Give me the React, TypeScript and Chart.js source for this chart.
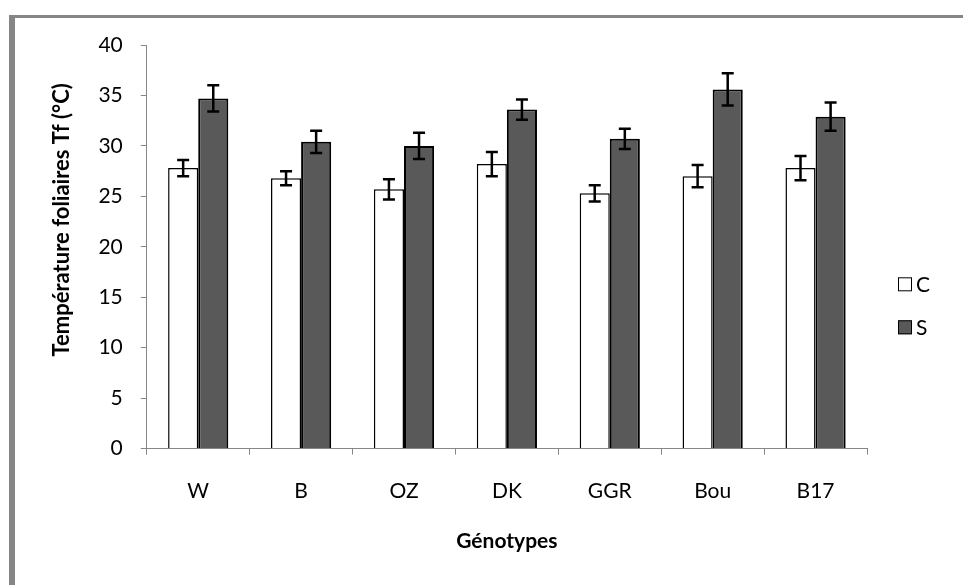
import React, { useEffect, useRef } from "react";
import { Chart, registerables } from "chart.js";

Chart.register(...registerables);

const categories = ["W", "B", "OZ", "DK", "GGR", "Bou", "B17"];
const seriesLabels = ["C", "S"];
const valuesC = [27.8, 26.8, 25.7, 28.2, 25.3, 27.0, 27.8];
const valuesS = [34.7, 30.4, 30.0, 33.6, 30.7, 35.6, 32.9];
const errorsC = [0.8, 0.7, 1.0, 1.2, 0.8, 1.1, 1.2];
const errorsS = [1.3, 1.1, 1.3, 1.0, 1.0, 1.6, 1.4];
const yMin = 0;
const yMax = 40;
const yStep = 5;
const xTitle = "Génotypes";
const yTitle = "Température foliaires Tf (°C)";

const FONT = "Lato, 'Open Sans', sans-serif";
const AXIS_GREY = "#868686";

const errorBarPlugin = {
  id: "errorBars",
  afterDatasetsDraw(chart: any) {
    const ctx = chart.ctx;
    const yScale = chart.scales.y;
    chart.data.datasets.forEach((ds: any, i: number) => {
      const meta = chart.getDatasetMeta(i);
      const errs: number[] = ds.errors || [];
      meta.data.forEach((bar: any, j: number) => {
        const v = ds.data[j];
        const e = errs[j];
        if (e == null) return;
        const top = yScale.getPixelForValue(v + e);
        const bot = yScale.getPixelForValue(v - e);
        const x = bar.x;
        const cap = 6;
        ctx.save();
        ctx.strokeStyle = "#000";
        ctx.lineWidth = 2.5;
        ctx.beginPath();
        ctx.moveTo(x, top);
        ctx.lineTo(x, bot);
        ctx.moveTo(x - cap, top);
        ctx.lineTo(x + cap, top);
        ctx.moveTo(x - cap, bot);
        ctx.lineTo(x + cap, bot);
        ctx.stroke();
        ctx.restore();
      });
    });
  },
};

// Draws the y-axis title slightly above the plot centre (as in the source), in the space reserved by the axis.
const yTitlePlugin = {
  id: "yTitleShift",
  afterDraw(chart: any) {
    const ctx = chart.ctx;
    const yScale = chart.scales.y;
    const area = chart.chartArea;
    const opts = yScale.options.title;
    const cx = yScale.left + opts.padding.top + 13.2;
    const cy = (area.top + area.bottom) / 2 - 27;
    ctx.save();
    ctx.translate(cx, cy);
    ctx.rotate(-Math.PI / 2);
    ctx.fillStyle = "#000";
    ctx.font = `bold 22px ${FONT}`;
    ctx.textAlign = "center";
    ctx.textBaseline = "middle";
    ctx.fillText(yTitle, 0, 0);
    ctx.restore();
  },
};

const sideLegendPlugin = {
  id: "sideLegend",
  afterDraw(chart: any) {
    const ctx = chart.ctx;
    const area = chart.chartArea;
    const x0 = area.right + 31;
    const yCenter = (area.top + area.bottom) / 2 + 59;
    const spacing = 43;
    const n = chart.data.datasets.length;
    chart.data.datasets.forEach((ds: any, i: number) => {
      const cy = yCenter + (i - (n - 1) / 2) * spacing;
      const size = 14;
      ctx.save();
      ctx.fillStyle = ds.backgroundColor;
      ctx.fillRect(x0, cy - size / 2, size, size);
      ctx.strokeStyle = "#000";
      ctx.lineWidth = 1;
      ctx.strokeRect(x0 + 0.5, cy - size / 2 + 0.5, size - 1, size - 1);
      ctx.fillStyle = "#000";
      ctx.font = `21px ${FONT}`;
      ctx.textBaseline = "middle";
      ctx.textAlign = "left";
      ctx.fillText(ds.label, x0 + size + 4, cy + 1);
      ctx.restore();
    });
  },
};

export default function App() {
  const canvasRef = useRef<HTMLCanvasElement | null>(null);

  useEffect(() => {
    const canvas = canvasRef.current;
    if (!canvas) return;
    const chart = new Chart(canvas, {
      type: "bar",
      data: {
        labels: categories,
        datasets: [
          {
            label: seriesLabels[0],
            data: valuesC,
            errors: errorsC,
            backgroundColor: "#ffffff",
            borderColor: "#000000",
            borderWidth: 1.5,
            categoryPercentage: 0.585,
            barPercentage: 1,
          } as any,
          {
            label: seriesLabels[1],
            data: valuesS,
            errors: errorsS,
            backgroundColor: "#595959",
            borderColor: "#000000",
            borderWidth: 2,
            categoryPercentage: 0.585,
            barPercentage: 1,
          } as any,
        ],
      },
      options: {
        animation: false,
        responsive: false,
        maintainAspectRatio: false,
        devicePixelRatio: 1,
        layout: { padding: { left: 0, right: 96, top: 45, bottom: 0 } },
        plugins: {
          legend: { display: false },
          tooltip: { enabled: false },
          title: { display: false },
        },
        scales: {
          x: {
            grid: {
              display: true,
              drawOnChartArea: false,
              drawTicks: true,
              tickLength: 6,
              tickColor: AXIS_GREY,
              offset: true,
            },
            border: { display: true, color: AXIS_GREY, width: 1 },
            ticks: {
              color: "#000",
              font: { family: FONT, size: 21 },
              padding: 24,
              maxRotation: 0,
            },
            title: {
              display: true,
              text: xTitle,
              color: "#000",
              font: { family: FONT, size: 21, weight: "bold" },
              padding: { top: 1, bottom: 31 },
            },
          },
          y: {
            min: yMin,
            max: yMax,
            grid: {
              display: true,
              drawOnChartArea: false,
              drawTicks: true,
              tickLength: 6,
              tickColor: AXIS_GREY,
            },
            border: { display: true, color: AXIS_GREY, width: 1 },
            ticks: {
              stepSize: yStep,
              color: "#000",
              font: { family: FONT, size: 21 },
              padding: 18,
            },
            title: {
              display: true,
              text: yTitle,
              color: "rgba(0,0,0,0)",
              font: { family: FONT, size: 22, weight: "bold" },
              padding: { top: 49, bottom: 5 },
            },
          },
        },
      },
      plugins: [errorBarPlugin, yTitlePlugin, sideLegendPlugin],
    });
    return () => chart.destroy();
  }, []);

  return (
    <div
      style={{
        position: "fixed",
        left: 0,
        top: 0,
        width: 963,
        height: 585,
        background: "#fff",
        overflow: "hidden",
      }}
    >
      <div
        style={{
          position: "absolute",
          left: 9,
          top: 15,
          right: 0,
          bottom: 0,
          borderLeft: `6px solid ${AXIS_GREY}`,
          borderTop: `3px solid ${AXIS_GREY}`,
        }}
      />
      <canvas
        ref={canvasRef}
        width={963}
        height={585}
        style={{ position: "absolute", left: 0, top: 0, width: 963, height: 585 }}
      />
    </div>
  );
}
